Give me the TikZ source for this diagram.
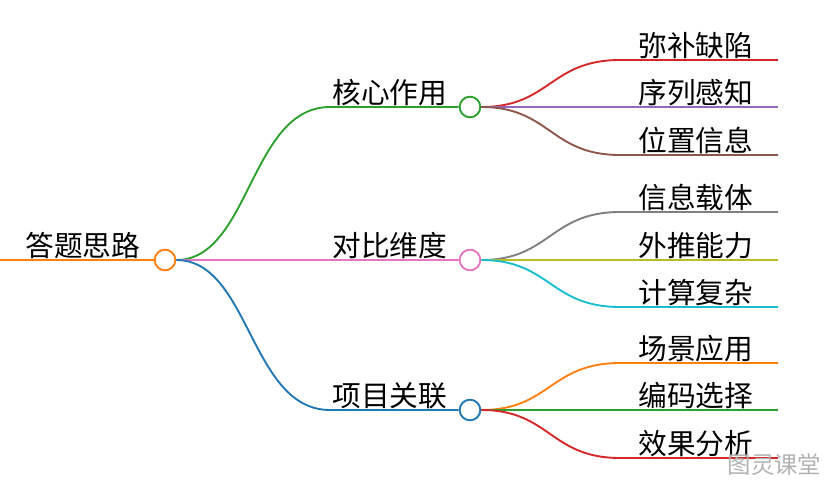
\documentclass[tikz,border=0pt]{standalone}
\usepackage{fontspec}
\newfontfamily\cjk{Noto Sans CJK SC}
\definecolor{cOrange}{HTML}{FF7F0E}
\definecolor{cGreen}{HTML}{2CA02C}
\definecolor{cPink}{HTML}{E377C2}
\definecolor{cBlue}{HTML}{1F77B4}
\definecolor{cRed}{HTML}{D62728}
\definecolor{cPurple}{HTML}{9467BD}
\definecolor{cBrown}{HTML}{8C564B}
\definecolor{cGray}{HTML}{7F7F7F}
\definecolor{cOlive}{HTML}{BCBD22}
\definecolor{cCyan}{HTML}{17BECF}
\begin{document}
\begin{tikzpicture}[
    x=0.03cm, y=-0.03cm,
    hub/.style={circle, draw=#1, fill=white, line width=1.6pt, minimum size=0.62cm, inner sep=0pt},
    edge/.style={line width=1.6pt, #1},
    label/.style={anchor=south west, inner sep=1pt, font=\cjk\fontsize{24.5}{28}\selectfont}
]
    \useasboundingbox (0,0) rectangle (828,480);

    % Hubs
    \node[hub=cOrange] (root) at (165,260) {};
    \node[hub=cGreen] (core) at (470,107) {};
    \node[hub=cPink] (comp) at (470,260) {};
    \node[hub=cBlue] (proj) at (470,410) {};

    % Root
    \coordinate (r0) at (0,260);
    \draw[edge=cOrange] (r0) -- (root.west);
    \node[label] at (24,260) {答题思路};

    % Main branches
    \foreach \n/\c/\y/\t in {core/cGreen/107/核心作用, comp/cPink/260/对比维度, proj/cBlue/410/项目关联}{
        \coordinate (\n a) at (330,\y);
        \draw[edge=\c] (root.east) .. controls (250,260) and (250,\y) .. (\n a) -- (\n.west);
        \node[label] at (331,\y) {\t};
    }

    % Leaves
    \foreach \h/\i/\c/\y/\t in {
        core/1/cRed/60/弥补缺陷, core/2/cPurple/107/序列感知, core/3/cBrown/155/位置信息,
        comp/1/cGray/212/信息载体, comp/2/cOlive/260/外推能力, comp/3/cCyan/307/计算复杂,
        proj/1/cOrange/363/场景应用, proj/2/cGreen/410/编码选择, proj/3/cRed/458/效果分析}{
        \pgfmathsetmacro{\yh}{\y<170 ? 107 : (\y<320 ? 260 : 410)}
        \coordinate (\h\i b) at (620,\y);
        \coordinate (\h\i e) at (778,\y);
        \draw[edge=\c] (\h.east) .. controls (550,\yh) and (550,\y) .. (\h\i b) -- (\h\i e);
        \node[label] at (637,\y) {\t};
    }

    % Watermark
    \node[anchor=south east, inner sep=2pt, text=gray!60, font=\cjk\fontsize{20}{22}\selectfont] (wm) at (824,478) {图灵课堂};
\end{tikzpicture}
\end{document}
